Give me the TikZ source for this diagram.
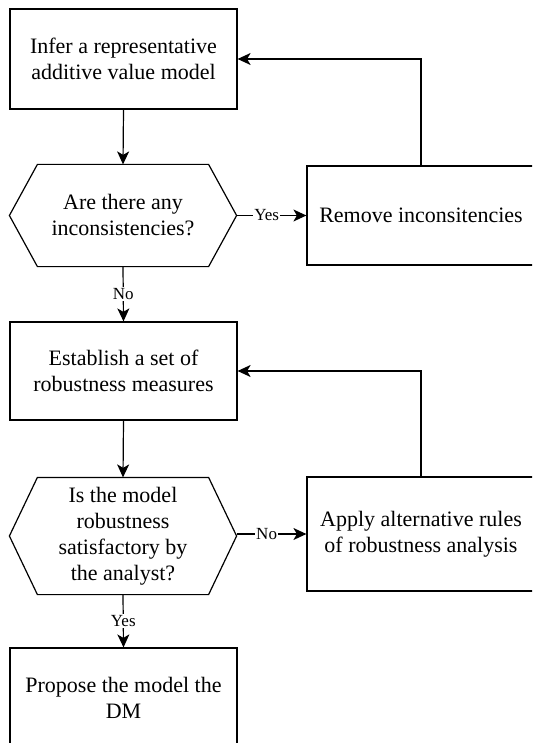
\documentclass[tikz,border=0pt]{standalone}
\usepackage{fontspec}
\setmainfont{Liberation Serif}
\usetikzlibrary{arrows.meta,calc}
\tikzset{
  every picture/.style={x=1pt,y=-1pt},
  base/.style={line width=1.2pt,draw=black,align=center,inner sep=0pt,
    font=\fontsize{22}{26}\selectfont},
  procbox/.style={base,rectangle,minimum width=227pt},
  hexfield/.style={base,draw=none,rectangle,minimum width=226pt},
  conn/.style={line width=1.2pt,-{Stealth[length=13pt,width=12pt,inset=3.5pt]}},
  lbl/.style={fill=white,inner sep=1pt,font=\fontsize{17}{19}\selectfont},
}
\newcommand{\hexdraw}[1]{%
  \draw[line width=1.2pt] (#1.west) -- ([xshift=28pt]#1.north west) -- ([xshift=-28pt]#1.north east)
    -- (#1.east) -- ([xshift=-28pt]#1.south east) -- ([xshift=28pt]#1.south west) -- cycle;}
\begin{document}
\begin{tikzpicture}
\useasboundingbox (0,0) rectangle (532,743);
\clip (0,0) rectangle (532,743);
\node[procbox,minimum height=100pt] (b1) at (123.5,59) {Infer a representative\\additive value model};
\node[hexfield,minimum height=101pt] (h1) at (123,215.5) {Are there any\\inconsistencies?};
\hexdraw{h1}
\node[procbox,minimum width=228pt,minimum height=99pt] (r1) at (421,215.5) {Remove inconsitencies};
\node[procbox,minimum height=98pt] (b2) at (123.5,371) {Establish a set of\\robustness measures};
\node[hexfield,minimum height=116pt] (h2) at (123,536) {Is the model\\robustness\\satisfactory by\\the analyst?};
\hexdraw{h2}
\node[procbox,minimum width=228pt,minimum height=114pt] (r2) at (421,534) {Apply alternative rules\\of robustness analysis};
\node[procbox,minimum height=100pt] (b3) at (123.5,698) {Propose the model the\\DM};

\draw[conn] (b1.south) -- (h1.north);
\draw[conn] (h1.east) -- node[lbl,pos=0.43] {Yes} (r1.west);
\draw[conn] (r1.north) |- (b1.east);
\draw[conn] (h1.south) -- node[lbl] {No} (b2.north);
\draw[conn] (b2.south) -- (h2.north);
\draw[conn] (h2.east |- r2.west) -- node[lbl,pos=0.43] {No} (r2.west);
\draw[conn] (r2.north) |- (b2.east);
\draw[conn] (h2.south) -- node[lbl] {Yes} (b3.north);
\end{tikzpicture}
\end{document}
